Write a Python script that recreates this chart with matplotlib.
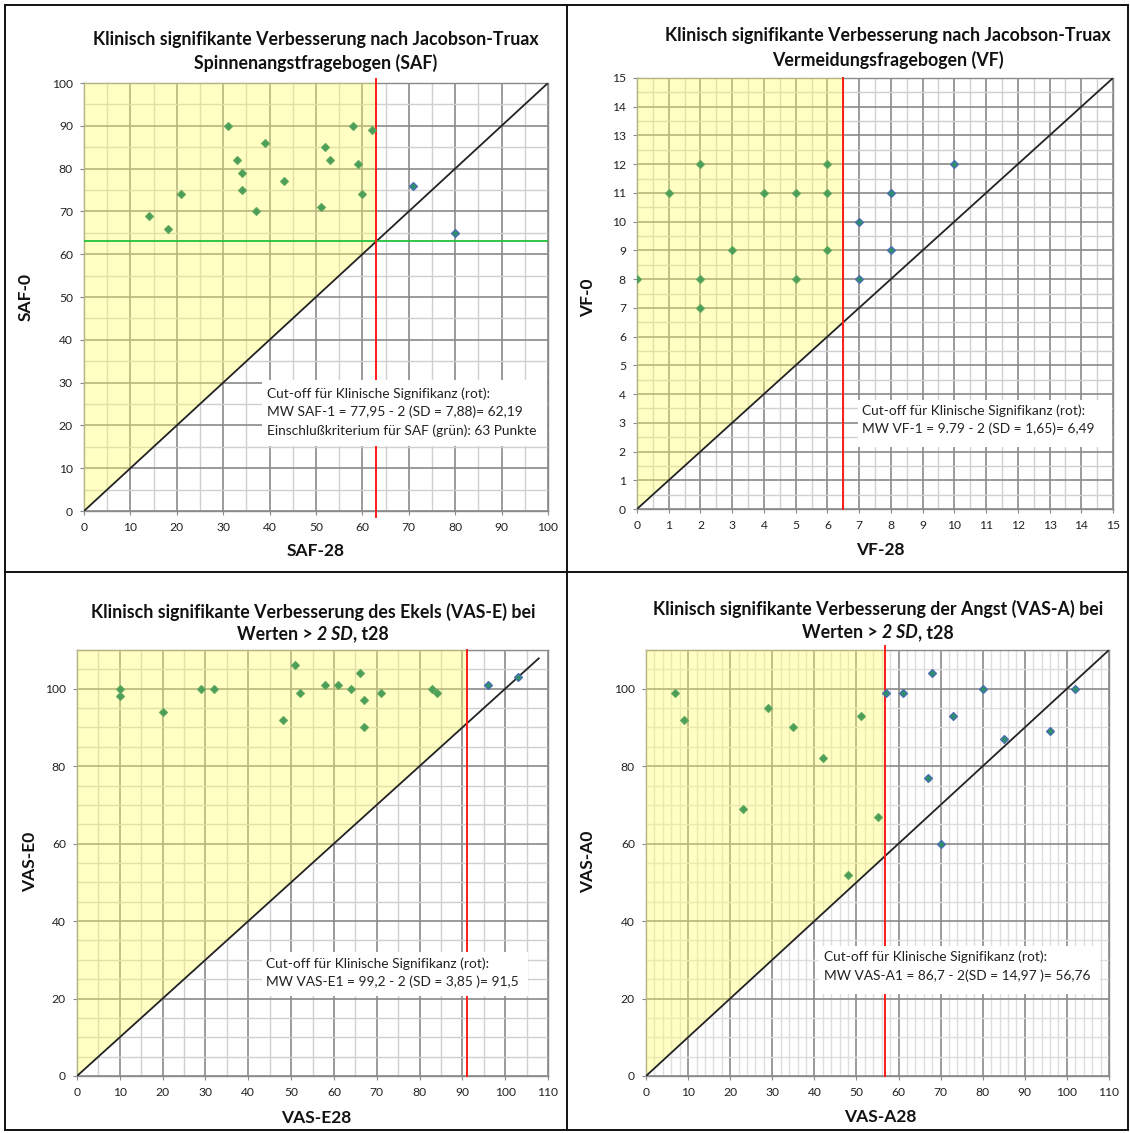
import matplotlib
matplotlib.use('Agg')
import matplotlib.pyplot as plt
from matplotlib.ticker import MultipleLocator
from matplotlib.lines import Line2D
from matplotlib.patches import Polygon, Rectangle

plt.rcParams['font.family'] = ['Lato', 'DejaVu Sans']

# ---------------- data ----------------
saf28 = [14, 18, 21, 31, 33, 34, 34, 37, 39, 43, 51, 52, 53, 58, 59, 60, 62, 71, 80]
saf0 = [69, 66, 74, 90, 82, 79, 75, 70, 86, 77, 71, 85, 82, 90, 81, 74, 89, 76, 65]

vf28 = [0, 1, 2, 2, 2, 3, 4, 5, 5, 6, 6, 6, 7, 7, 8, 8, 10]
vf0 = [8, 11, 12, 8, 7, 9, 11, 11, 8, 12, 11, 9, 10, 8, 11, 9, 12]

vase28 = [10, 10, 20, 29, 32, 48, 51, 52, 58, 61, 64, 66, 67, 67, 71, 83, 84, 96, 103]
vase0 = [100, 98, 94, 100, 100, 92, 106, 99, 101, 101, 100, 104, 97, 90, 99, 100, 99, 101, 103]

vasa28 = [7, 9, 23, 29, 35, 42, 48, 51, 55, 57, 61, 67, 68, 70, 73, 80, 85, 96, 102]
vasa0 = [99, 92, 69, 95, 90, 82, 52, 93, 67, 99, 99, 77, 104, 60, 93, 100, 87, 89, 100]

saf_cutoff = 63
saf_inclusion = 63
vf_cutoff = 6.5
vase_cutoff = 91
vasa_cutoff = 56.76

W, H = 1130, 1133
fig = plt.figure(figsize=(W / 100, H / 100), dpi=100)
fig.patch.set_facecolor('white')


def fx(x):
    return x / W


def fy(y):
    return 1 - y / H


MAJ_C = '#8a8a8a'
MIN_C = '#d0d0d0'
YEL = '#ffff66'
YEL_A = 0.38


def make_axes(x0, x1, yt, yb, lim, xmaj, xmin, ymaj, ymin, minc=MIN_C):
    ax = fig.add_axes([fx(x0), fy(yb), (x1 - x0) / W, (yb - yt) / H])
    ax.set_xlim(0, lim)
    ax.set_ylim(0, lim)
    ax.xaxis.set_major_locator(MultipleLocator(xmaj))
    ax.xaxis.set_minor_locator(MultipleLocator(xmin))
    ax.yaxis.set_major_locator(MultipleLocator(ymaj))
    ax.yaxis.set_minor_locator(MultipleLocator(ymin))
    ax.set_axisbelow(True)
    ax.grid(which='minor', color=minc, lw=1.0)
    ax.grid(which='major', color=MAJ_C, lw=1.2)
    for s in ax.spines.values():
        s.set_color(MAJ_C)
        s.set_linewidth(1.0)
    ax.tick_params(which='both', length=0, labelsize=8.7, colors='#222222', pad=5)
    ax.tick_params(which='major', length=3, color=MAJ_C)
    return ax


def scatter(ax, x, y, cut, ms=4.4):
    inside = [(a, b) for a, b in zip(x, y) if a < cut and b > a]
    outside = [(a, b) for a, b in zip(x, y) if not (a < cut and b > a)]
    if inside:
        xi, yi = zip(*inside)
        ax.plot(xi, yi, ls='none', marker='D', ms=ms, mfc='#4c9f5a', mec='#62a85c',
                mew=0.8, zorder=7)
    if outside:
        xo, yo = zip(*outside)
        ax.plot(xo, yo, ls='none', marker='D', ms=ms, mfc='#2e9068', mec='#4a6cb5',
                mew=0.9, zorder=7)


def overlay(ax, cut, top):
    poly = Polygon([(0, 0), (cut, cut), (cut, top), (0, top)], closed=True,
                   facecolor=YEL, alpha=YEL_A, edgecolor='none', zorder=4)
    ax.add_patch(poly)


def diag(ax, end):
    ax.plot([0, end], [0, end], color='#222222', lw=1.3, zorder=5,
            solid_capstyle='butt')


def redline(ax, x, y0, y1):
    ax.plot([x, x], [y0, y1], color='#ff1a1a', lw=1.4, zorder=6, clip_on=False)


def title(lines, cx, ys, size=12.8):
    for parts, y in zip(lines, ys):
        rich_line(parts, cx, y, size)


def rich_line(parts, cx, y, size):
    r = fig.canvas.get_renderer()
    txts = []
    widths = []
    for t, st in parts:
        tt = fig.text(0, fy(y), t, fontsize=size, fontweight='bold', style=st,
                      ha='left', va='center', color='#111111')
        txts.append(tt)
        widths.append(tt.get_window_extent(r).width)
    total = sum(widths)
    x = cx - total / 2
    for tt, w in zip(txts, widths):
        tt.set_x(fx(x))
        x += w


def axlabels(xl, xpos, yl, ypos):
    fig.text(fx(xpos[0]), fy(xpos[1]), xl, fontsize=12.5, fontweight='bold',
             ha='center', va='center', color='#111111')
    fig.text(fx(ypos[0]), fy(ypos[1]), yl, fontsize=12.5, fontweight='bold',
             ha='center', va='center', rotation=90, color='#111111')


def textbox(lines, box, tx, ys, size=9.9):
    x0, y0, x1, y1 = box
    rect = Rectangle((fx(x0), fy(y1)), (x1 - x0) / W, (y1 - y0) / H,
                     transform=fig.transFigure, facecolor='white',
                     edgecolor='none', zorder=2)
    fig.add_artist(rect)
    for t, y in zip(lines, ys):
        fig.text(fx(tx), fy(y), t, fontsize=size, ha='left', va='center',
                 color='#222222', zorder=3)


# ---------------- panel 1: SAF ----------------
ax1 = make_axes(84, 548, 83, 511, 100, 10, 5, 10, 5)
scatter(ax1, saf28, saf0, saf_cutoff)
overlay(ax1, saf_cutoff, 100)
diag(ax1, 100)
ax1.plot([0, 100], [saf_inclusion, saf_inclusion], color='#22c03a', lw=1.3, zorder=6)
redline(ax1, saf_cutoff, -1.5, 101)
title([[('Klinisch signifikante Verbesserung nach Jacobson-Truax', 'normal')],
       [('Spinnenangstfragebogen (SAF)', 'normal')]], 316, [40, 63])
axlabels('SAF-28', (316, 551), 'SAF-0', (26, 297))
textbox(['Cut-off für Klinische Signifikanz (rot):',
         'MW SAF-1 = 77,95 - 2 (SD = 7,88)= 62,19',
         'Einschlußkriterium für SAF (grün): 63 Punkte'],
        (262, 380, 547, 446), 267, [394, 412, 431])

# ---------------- panel 2: VF ----------------
ax2 = make_axes(637, 1113, 78, 509, 15, 1, 0.5, 1, 0.5)
scatter(ax2, vf28, vf0, vf_cutoff, ms=3.8)
overlay(ax2, vf_cutoff, 15)
diag(ax2, 15)
redline(ax2, vf_cutoff, 0, 15)
title([[('Klinisch signifikante Verbesserung nach Jacobson-Truax', 'normal')],
       [('Vermeidungsfragebogen (VF)', 'normal')]], 888, [36, 60])
axlabels('VF-28', (880, 550), 'VF-0', (588, 298))
textbox(['Cut-off für Klinische Signifikanz (rot):',
         'MW VF-1 = 9.79 - 2 (SD = 1,65)= 6,49'],
        (858, 400, 1112, 447), 862, [411, 429])

# ---------------- panel 3: VAS-E ----------------
ax3 = make_axes(77, 548, 650, 1076, 110, 10, 5, 20, 5)
scatter(ax3, vase28, vase0, vase_cutoff)
overlay(ax3, vase_cutoff, 110)
diag(ax3, 108)
redline(ax3, vase_cutoff, 0, 110)
title([[('Klinisch signifikante Verbesserung des Ekels (VAS-E) bei', 'normal')],
       [('Werten > ', 'normal'), ('2 SD', 'italic'), (', t28', 'normal')]],
      313, [612, 634])
axlabels('VAS-E28', (316, 1118), 'VAS-E0', (30, 862))
textbox(['Cut-off für Klinische Signifikanz (rot):',
         'MW VAS-E1 = 99,2 - 2 (SD = 3,85 )= 91,5'],
        (262, 952, 528, 996), 266, [964, 982])

# ---------------- panel 4: VAS-A ----------------
ax4 = make_axes(646, 1109, 650, 1076, 110, 10, 2, 20, 5, minc='#dedede')
scatter(ax4, vasa28, vasa0, vasa_cutoff)
overlay(ax4, vasa_cutoff, 110)
diag(ax4, 110)
redline(ax4, vasa_cutoff, 0, 111)
title([[('Klinisch signifikante Verbesserung der Angst (VAS-A) bei', 'normal')],
       [('Werten > ', 'normal'), ('2 SD', 'italic'), (', t28', 'normal')]],
      878, [609, 633])
axlabels('VAS-A28', (880, 1117), 'VAS-A0', (588, 862))
textbox(['Cut-off für Klinische Signifikanz (rot):',
         'MW VAS-A1 = 86,7 - 2(SD = 14,97 )= 56,76'],
        (819, 946, 1100, 994), 824, [957, 976])

# ---------------- panel borders ----------------
for (xa, ya, xb, yb) in [(5, 5, 1128, 5), (5, 1130, 1128, 1130), (5, 5, 5, 1130),
                         (1128, 5, 1128, 1130), (567, 5, 567, 1130),
                         (5, 572, 1128, 572)]:
    fig.add_artist(Line2D([fx(xa), fx(xb)], [fy(ya), fy(yb)], color='#111111',
                          lw=1.4, transform=fig.transFigure))

fig.savefig('out.png', dpi=100)
